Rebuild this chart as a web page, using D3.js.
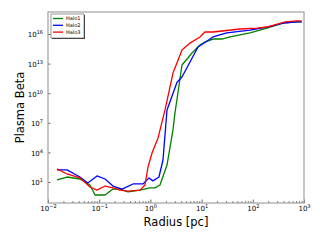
<!DOCTYPE html>
<html><head><meta charset="utf-8">
<script src="https://cdn.jsdelivr.net/npm/d3@7"></script>
<style>
html,body{margin:0;padding:0;background:#fff;}
svg{display:block;font-family:"DejaVu Sans",sans-serif;}
</style></head>
<body><svg id="c" width="320" height="240"></svg>
<script>
const seriesNames = ["Halo1", "Halo2", "Halo3"];
const seriesColors = ["#008000", "#0000ff", "#ff0000"];

const halo1Radius = [0.015,0.0235,0.042,0.066,0.083,0.13,0.186,0.255,0.365,0.627,0.98,1.23,1.54,2.11,2.76,3.02,4.14,5.42,6.49,9.3,11.6,16.7,25,36,88,189,390,730,900];
const halo1Beta = [1.6e1,3.2e1,2.0e1,5.0e0,4.8e-1,4.8e-1,1.9e0,1.9e0,9.8e-1,1.5e0,2.5e0,2.5e0,5.0e0,5.2e2,1.9e6,9.8e7,7.2e12,3.7e13,1.2e14,7.6e14,1.5e15,3.1e15,3.1e15,5.0e15,1.3e16,4.0e16,1.3e17,1.7e17,1.7e17];

const halo2Radius = [0.015,0.0235,0.042,0.060,0.0906,0.13,0.186,0.279,0.457,0.717,0.94,1.12,1.47,1.76,2.11,3.31,4.14,8.5,16.7,31,88,189,390,730,900];
const halo2Beta = [1.7e2,1.7e2,3.2e1,7.9e0,4.1e1,2.0e1,3.9e0,1.9e0,6.3e0,6.3e0,2.6e1,1.3e1,3.2e1,1.7e3,2.0e8,1.3e11,4.4e11,4.8e14,5.0e15,1.3e16,2.5e16,5.1e16,1.3e17,1.7e17,1.7e17];

const halo3Radius = [0.015,0.0235,0.042,0.066,0.0906,0.13,0.186,0.255,0.365,0.627,0.785,0.898,1.075,1.41,1.93,2.76,4.14,5.93,9.3,11.6,16.7,56,120,189,427,730,900];
const halo3Beta = [2.1e2,6.5e1,2.6e1,3.1e0,1.5e0,3.9e0,2.5e0,1.5e0,1.2e0,1.5e0,5.0e0,3.3e2,8.7e3,2.9e5,2.0e8,1.1e12,2.4e14,1.2e15,5.0e15,1.6e16,1.6e16,3.2e16,4.0e16,5.1e16,1.7e17,2.1e17,2.1e17];

const xMajorTicks = [1e-2,1e-1,1e0,1e1,1e2,1e3];
const xTickExponents = ["\u22122","\u22121","0","1","2","3"];
const yMajorTicks = [1e1,1e4,1e7,1e10,1e13,1e16];
const yTickExponents = ["1","4","7","10","13","16"];

const series = [
  {name: seriesNames[0], color: seriesColors[0], x: halo1Radius, y: halo1Beta},
  {name: seriesNames[1], color: seriesColors[1], x: halo2Radius, y: halo2Beta},
  {name: seriesNames[2], color: seriesColors[2], x: halo3Radius, y: halo3Beta}
];

const svg = d3.select("#c");
const L = 48, T = 12, R = 304, B = 203;
const x = d3.scaleLog().domain([1e-2, 1e3]).range([L, R]);
const y = d3.scaleLog().domain([Math.pow(10,-1.13), Math.pow(10,18.23)]).range([B, T]);

const line = d3.line().x(d => x(d[0])).y(d => y(d[1]));
const g = svg.append("g");
series.forEach(s => {
  const pts = s.x.map((v,i) => [v, s.y[i]]);
  g.append("path").attr("d", line(pts)).attr("fill","none")
   .attr("stroke", s.color).attr("stroke-width", 1.3).attr("stroke-linejoin","round");
});

// minor x ticks
const xMinor = [];
for (let e = -2; e < 3; e++) for (let m = 2; m <= 9; m++) xMinor.push(m * Math.pow(10, e));

const xAxisG = svg.append("g").attr("transform", `translate(0,${B})`);
xAxisG.call(d3.axisBottom(x).tickValues(xMinor).tickSize(-1.8).tickFormat(""));
xAxisG.select(".domain").remove();
xAxisG.selectAll("line").attr("stroke","#000").attr("stroke-width",0.6);
const xMaj = svg.append("g").attr("transform", `translate(0,${B})`);
xMaj.call(d3.axisBottom(x).tickValues(xMajorTicks).tickSize(-3.5).tickPadding(3).tickFormat(""));
xMaj.select(".domain").remove();
xMaj.selectAll("line").attr("stroke","#000").attr("stroke-width",0.6);
xMaj.selectAll(".tick text").each(function(d,i){
  const t = d3.select(this).attr("font-size", 7).attr("fill","#000").attr("font-family","DejaVu Sans").attr("dy","0.7em");
  t.append("tspan").text("10");
  t.append("tspan").attr("font-size",5).attr("dy",-3).text(xTickExponents[i]);
});

const yAxisG = svg.append("g").attr("transform", `translate(${L},0)`);
yAxisG.call(d3.axisLeft(y).tickValues(yMajorTicks).tickSize(-2.5).tickPadding(5).tickFormat(""));
yAxisG.select(".domain").remove();
yAxisG.selectAll("line").attr("stroke","#000").attr("stroke-width",0.6);
yAxisG.selectAll(".tick text").each(function(d,i){
  const t = d3.select(this).attr("font-size", 7).attr("fill","#000").attr("font-family","DejaVu Sans").attr("dy","0.4em");
  t.append("tspan").text("10");
  t.append("tspan").attr("font-size",5).attr("dy",-3).text(yTickExponents[i]);
});

// frame
svg.append("rect").attr("x", L).attr("y", T).attr("width", R-L).attr("height", B-T)
  .attr("fill","none").attr("stroke","#a0a0a0").attr("stroke-width",1.2);

// axis labels
svg.append("text").attr("x", 176).attr("y", 226).attr("text-anchor","middle")
  .attr("font-size", 11.5).attr("fill","#000").text("Radius [pc]");
svg.append("text").attr("transform", `translate(24,${(T+B)/2}) rotate(-90)`).attr("text-anchor","middle")
  .attr("font-size", 11.5).attr("fill","#000").text("Plasma Beta");

// legend
const lg = svg.append("g");
lg.append("rect").attr("x", 52).attr("y", 15).attr("width", 33).attr("height", 24).attr("fill","#555");
lg.append("rect").attr("x", 51).attr("y", 14).attr("width", 33).attr("height", 24).attr("fill","#fff").attr("stroke","#000").attr("stroke-width",0.4);
series.forEach((s,i) => {
  const yy = 18.5 + i*6.8;
  lg.append("line").attr("x1",53).attr("x2",63).attr("y1",yy).attr("y2",yy).attr("stroke",s.color).attr("stroke-width",1.3);
  lg.append("text").attr("x",66).attr("y",yy).attr("dy","0.35em").attr("font-size",5).attr("fill","#000").text(s.name);
});
</script></body></html>
